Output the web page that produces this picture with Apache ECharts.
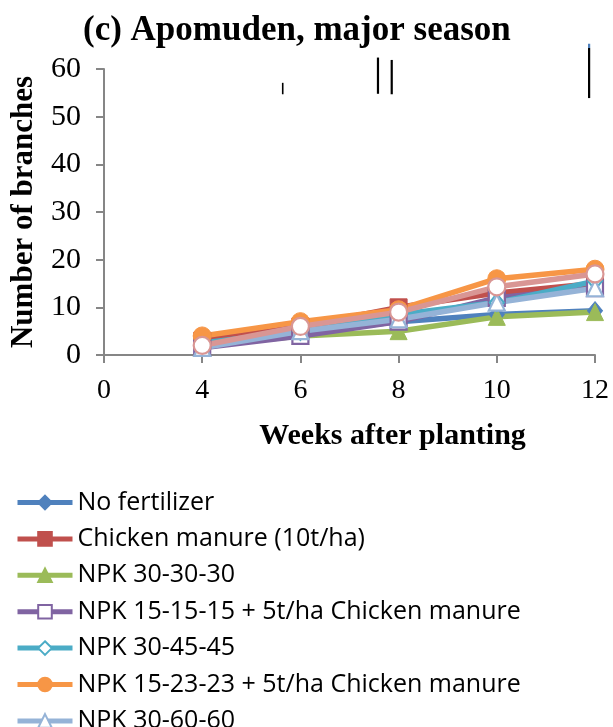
<!DOCTYPE html>
<html>
<head>
<meta charset="utf-8">
<script src="https://cdn.jsdelivr.net/npm/echarts@6/dist/echarts.min.js"></script>
<style>
  html, body { margin: 0; padding: 0; background: #fff; }
  #chart { width: 613px; height: 727px; }
</style>
</head>
<body>
<div id="chart"></div>
<script>
// Weeks after planting shown on the category axis
const weekLabels = ['0', '4', '6', '8', '10', '12'];
const sampleWeeks = ['4', '6', '8', '10', '12'];

// Mean number of branches per treatment at each sampling week
const noFertilizer     = [2.5, 4.5, 7.0, 8.5, 9.3];
const chickenManure    = [3.0, 6.0, 10.0, 13.0, 15.0];
const npk303030        = [2.0, 4.0, 5.0, 8.0, 9.0];
const npk151515Manure  = [1.5, 4.0, 7.0, 12.0, 14.0];
const npk304545        = [2.5, 5.0, 8.5, 11.0, 15.5];
const npk152323Manure  = [4.0, 7.0, 9.5, 16.0, 18.0];
const npk306060        = [1.5, 5.0, 7.5, 11.0, 14.0];
const treatment8       = [2.0, 6.0, 9.0, 14.3, 17.0];

// Vertical bars above the curves (position on the category index scale, low, high)
const barPos  = [1.82, 2.79, 2.93, 4.94];
const barLow  = [54.7, 54.8, 54.7, 53.9];
const barHigh = [57.1, 62.4, 61.9, 64.4];
const barTipHigh = 65.3;

const yTicks = { min: 0, max: 60, interval: 10 };

const serif = '"Liberation Serif", "Times New Roman", serif';
const sans = '"Open Sans", "Noto Sans", sans-serif';

function pairs(values) {
  return sampleWeeks.map((w, i) => [w, values[i]]);
}

function lineSeries(name, values, color, symbol, hollow, symbolSize) {
  return {
    name: name,
    type: 'line',
    data: pairs(values),
    symbol: symbol,
    symbolSize: symbolSize || 15,
    showAllSymbol: true,
    lineStyle: { color: color, width: 5.5 },
    itemStyle: hollow
      ? { color: '#ffffff', borderColor: color, borderWidth: 2.2 }
      : { color: color, borderColor: color, borderWidth: 1 },
    emphasis: { disabled: true },
    animation: false
  };
}

const series = [
  lineSeries('No fertilizer', noFertilizer, '#4F81BD', 'diamond', false, [15, 18]),
  lineSeries('Chicken manure (10t/ha)', chickenManure, '#C0504D', 'rect', false, 17),
  lineSeries('NPK 30-30-30', npk303030, '#9BBB59', 'triangle', false, 17),
  lineSeries('NPK 15-15-15 + 5t/ha Chicken manure', npk151515Manure, '#8064A2', 'rect', true, 16),
  lineSeries('NPK 30-45-45', npk304545, '#4BACC6', 'diamond', true, [14, 17]),
  lineSeries('NPK 15-23-23 + 5t/ha Chicken manure', npk152323Manure, '#F79646', 'circle', false, 18),
  lineSeries('NPK 30-60-60', npk306060, '#95B3D7', 'triangle', true, 16),
  lineSeries('Treatment 8', treatment8, '#D99694', 'circle', true, 17),
  {
    name: 'bars',
    type: 'custom',
    xAxisIndex: 1,
    yAxisIndex: 0,
    clip: false,
    silent: true,
    animation: false,
    data: barPos.map((p, i) => [p, barLow[i], barHigh[i]]),
    renderItem: function (params, api) {
      const x = api.value(0);
      const lo = api.coord([x, api.value(1)]);
      const hi = api.coord([x, api.value(2)]);
      const children = [{
        type: 'line',
        shape: { x1: lo[0], y1: lo[1], x2: hi[0], y2: hi[1] },
        style: { stroke: '#000', lineWidth: params.dataIndex === 0 ? 1.6 : 2.2 }
      }];
      if (params.dataIndex === barPos.length - 1) {
        const tip = api.coord([x, barTipHigh]);
        children.push({
          type: 'line',
          shape: { x1: hi[0], y1: hi[1], x2: tip[0], y2: tip[1] },
          style: { stroke: '#4F81BD', lineWidth: 2.2 }
        });
      }
      return { type: 'group', children: children };
    }
  }
];

const legendNames = series.slice(0, 7).map(s => s.name);

const chart = echarts.init(document.getElementById('chart'), null, { renderer: 'canvas' });
chart.setOption({
  backgroundColor: '#ffffff',
  animation: false,
  title: {
    text: '(c) Apomuden, major season',
    left: 78,
    top: 8,
    textStyle: { fontFamily: serif, fontWeight: 'bold', fontSize: 35, color: '#000' }
  },
  grid: { left: 100, right: 18, top: 69, bottom: 372, containLabel: false },
  xAxis: [
    {
      type: 'category',
      data: weekLabels,
      boundaryGap: false,
      name: 'Weeks after planting',
      nameLocation: 'middle',
      nameGap: 66,
      nameTextStyle: {
        fontFamily: serif, fontWeight: 'bold', fontSize: 30, color: '#000',
        padding: [0, 0, 0, 86]
      },
      axisLine: { lineStyle: { color: '#868686', width: 2 } },
      axisTick: { show: true, inside: false, length: 8, lineStyle: { color: '#868686', width: 2 } },
      axisLabel: { fontFamily: serif, fontSize: 28, color: '#000', margin: 22 },
      splitLine: { show: false }
    },
    {
      type: 'value',
      min: 0,
      max: 5,
      show: false
    }
  ],
  yAxis: {
    type: 'value',
    min: yTicks.min,
    max: yTicks.max,
    interval: yTicks.interval,
    name: 'Number of branches',
    nameLocation: 'middle',
    nameRotate: 90,
    nameGap: 65,
    nameTextStyle: { fontFamily: serif, fontWeight: 'bold', fontSize: 31, color: '#000' },
    axisLine: { show: true, lineStyle: { color: '#868686', width: 2 } },
    axisTick: { show: true, inside: false, length: 8, lineStyle: { color: '#868686', width: 2 } },
    axisLabel: { fontFamily: serif, fontSize: 30, color: '#000', margin: 23 },
    splitLine: { show: false }
  },
  legend: {
    data: legendNames,
    orient: 'vertical',
    left: 15,
    top: 490,
    height: 320,
    padding: 0,
    itemWidth: 55,
    itemHeight: 17,
    itemGap: 11.4,
    lineStyle: { width: 5 },
    textStyle: { fontFamily: sans, fontSize: 25, color: '#000', lineHeight: 24 },
    selectedMode: false
  },
  series: series
});
</script>
</body>
</html>
